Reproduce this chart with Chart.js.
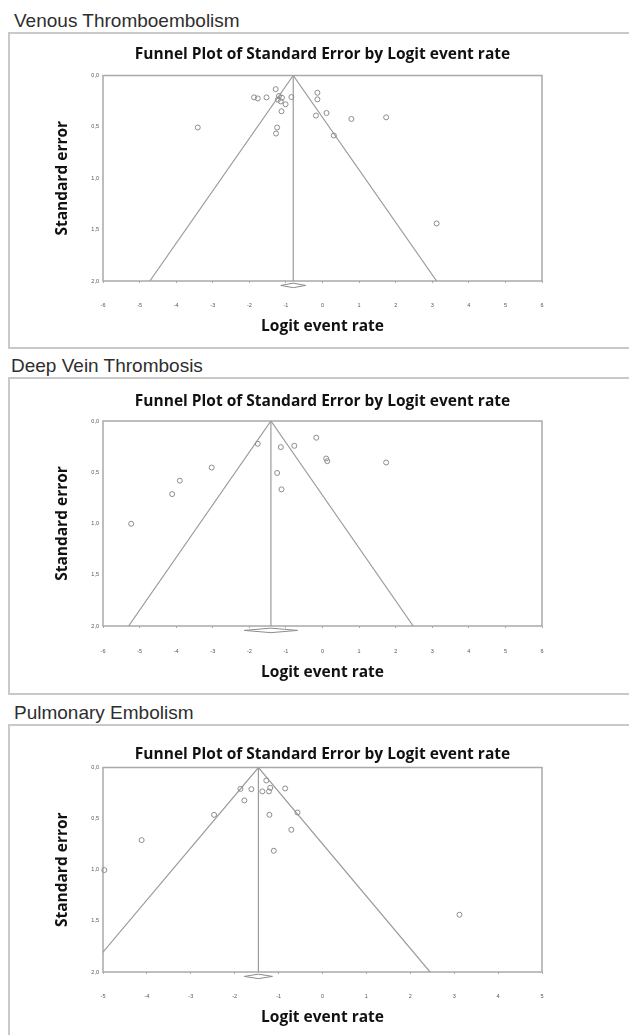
<!DOCTYPE html>
<html>
<head>
<meta charset="utf-8">
<title>Funnel plots</title>
<script src="https://cdn.jsdelivr.net/npm/chart.js@4.4.1/dist/chart.umd.min.js"></script>
<style>
  body { margin: 0; width: 629px; height: 1035px; overflow: hidden; background: #fff; position: relative; }
  .section { position: absolute; font-family: "Liberation Sans", Arial, sans-serif; font-size: 19px; line-height: 19px; color: #2e2e2e; white-space: nowrap; }
  .box { position: absolute; left: 8px; width: 660px; border: 2px solid #c9c9c9; border-right: none; }
  canvas { position: absolute; left: 0; }
</style>
</head>
<body>

<div class="section" style="left:14px;top:11px">Venous Thromboembolism</div>
<div class="box" style="top:32px;height:313px"></div>
<canvas id="vte" width="629" height="313" style="top:34px"></canvas>

<div class="section" style="left:11px;top:356px">Deep Vein Thrombosis</div>
<div class="box" style="top:377px;height:314px"></div>
<canvas id="dvt" width="629" height="314" style="top:379px"></canvas>

<div class="section" style="left:14px;top:703px">Pulmonary Embolism</div>
<div class="box" style="top:724px;height:340px"></div>
<canvas id="pe" width="629" height="309" style="top:726px"></canvas>

<script>
const chartTitle = 'Funnel Plot of Standard Error by Logit event rate';
const logitTicksWide = [-6, -5, -4, -3, -2, -1, 0, 1, 2, 3, 4, 5, 6];
const logitTicksNarrow = [-5, -4, -3, -2, -1, 0, 1, 2, 3, 4, 5];
const seTicks = [0, 0.5, 1, 1.5, 2];
const seTickLabels = ['0,0', '0,5', '1,0', '1,5', '2,0'];

// Venous thromboembolism
const vteLogit = [-1.28, -1.87, -1.77, -1.53, -1.19, -1.11, -1.22, -1.14, -1.01, -1.12, -0.85,
                  -0.14, -0.14, 0.11, -0.18, 0.79, 0.31, -3.41, -1.24, -1.27, 1.74, 3.12];
const vteSE = [0.133, 0.213, 0.223, 0.213, 0.200, 0.216, 0.235, 0.252, 0.280, 0.348, 0.210,
               0.168, 0.232, 0.365, 0.390, 0.423, 0.584, 0.506, 0.506, 0.565, 0.407, 1.440];
const vteFunnel = [-4.72, -0.80, 3.12];   // lower limit at SE 2, summary, upper limit at SE 2
const vteDiamond = [-1.14, -0.80, -0.46];

// Deep vein thrombosis
const dvtLogit = [-1.77, -1.14, -0.77, -0.17, 0.10, 0.13, -1.24, -1.12, -3.03, -3.90, -4.11, -5.23, 1.74];
const dvtSE = [0.222, 0.255, 0.242, 0.163, 0.366, 0.392, 0.507, 0.667, 0.454, 0.582, 0.713, 1.003, 0.405];
const dvtFunnel = [-5.30, -1.41, 2.48];
const dvtDiamond = [-2.14, -1.41, -0.68];

// Pulmonary embolism
const peLogit = [-1.28, -1.87, -1.62, -1.37, -1.22, -1.19, -0.85, -1.78, -2.47, -1.21, -0.57,
                 -0.71, -1.11, -4.12, -4.97, 3.12];
const peSE = [0.127, 0.209, 0.212, 0.234, 0.234, 0.199, 0.205, 0.322, 0.463, 0.463, 0.440,
              0.609, 0.814, 0.710, 1.003, 1.440];
const peFunnel = [-5.38, -1.46, 2.45];
const peDiamond = [-1.78, -1.46, -1.14];

const lineGrey = '#9c9c9c';
const titleSize = 15.5;
const axisTitleSize = 15.5;
const boldFont = (size) => ({ family: '"Open Sans", "DejaVu Sans", sans-serif', size: size, weight: 'bold' });

// frame round the plot area
const plotFrame = {
    id: 'plotFrame',
    beforeDatasetsDraw(chart) {
        const { ctx, chartArea: a } = chart;
        ctx.save();
        ctx.strokeStyle = '#a9a9a9';
        ctx.lineWidth = 1.5;
        ctx.strokeRect(a.left, a.top, a.right - a.left, a.bottom - a.top);
        ctx.restore();
    }
};

const makeFunnel = (id, logit, se, funnel, diamond, xTicks, place) => {
    const canvas = document.getElementById(id);
    const top = parseFloat(canvas.style.top);
    const h = canvas.height;
    const seMax = seTicks[seTicks.length - 1];
    const titleLh = titleSize * 1.2;
    const titleTop = place.titleY - top - titleLh / 2;
    const titleBottom = place.areaTop - top - titleTop - titleLh;
    const areaBottom = place.areaBottom - top;
    const xHeight = h - areaBottom;
    const axisTitlePad = xHeight - (place.axisTitleY - place.areaBottom) - axisTitleSize * 1.2 / 2;
    const tickPad = place.tickY - place.areaBottom - 2 - 5.5 * 1.2 / 2;

    const points = logit.map((x, i) => ({ x: x, y: se[i] }));
    const dy = 2.043, dh = 0.022;

    const config = {
        type: 'scatter',
        data: {
            datasets: [
                {
                    label: 'Studies',
                    data: points,
                    pointStyle: 'circle',
                    pointRadius: 2.5,
                    pointBorderWidth: 1,
                    pointBorderColor: '#8c8c8c',
                    pointBackgroundColor: 'rgba(0,0,0,0)',
                    clip: false
                },
                {
                    label: 'Funnel',
                    data: [{ x: funnel[0], y: seMax }, { x: funnel[1], y: 0 }, { x: funnel[2], y: seMax }],
                    showLine: true,
                    borderColor: lineGrey,
                    borderWidth: 1.2,
                    pointRadius: 0
                },
                {
                    label: 'Summary',
                    data: [{ x: funnel[1], y: 0 }, { x: funnel[1], y: seMax }],
                    showLine: true,
                    borderColor: lineGrey,
                    borderWidth: 1.2,
                    pointRadius: 0
                },
                {
                    label: 'Diamond',
                    data: [
                        { x: diamond[0], y: dy }, { x: diamond[1], y: dy - dh },
                        { x: diamond[2], y: dy }, { x: diamond[1], y: dy + dh },
                        { x: diamond[0], y: dy }
                    ],
                    showLine: true,
                    borderColor: '#8c8c8c',
                    borderWidth: 1,
                    pointRadius: 0,
                    clip: false
                }
            ]
        },
        options: {
            responsive: false,
            animation: false,
            layout: { padding: { left: 0, right: 629 - place.areaRight, top: 0, bottom: 0 } },
            plugins: {
                legend: { display: false },
                tooltip: { enabled: false },
                title: {
                    display: true,
                    text: chartTitle,
                    fullSize: false,
                    color: '#111',
                    font: boldFont(titleSize),
                    padding: { top: titleTop, bottom: titleBottom }
                }
            },
            scales: {
                x: {
                    type: 'linear',
                    min: xTicks[0],
                    max: xTicks[xTicks.length - 1],
                    afterBuildTicks: (s) => { s.ticks = xTicks.map(v => ({ value: v })); },
                    afterFit: (s) => { s.height = xHeight; },
                    ticks: { font: { size: 5.5 }, color: '#555', padding: tickPad, maxRotation: 0, autoSkip: false },
                    grid: { drawOnChartArea: false, drawTicks: true, tickLength: 2, color: '#aaa' },
                    border: { display: false },
                    title: {
                        display: true,
                        text: 'Logit event rate',
                        color: '#111',
                        font: boldFont(axisTitleSize),
                        padding: { top: 0, bottom: axisTitlePad }
                    }
                },
                y: {
                    type: 'linear',
                    reverse: true,
                    min: 0,
                    max: seMax,
                    afterBuildTicks: (s) => { s.ticks = seTicks.map(v => ({ value: v })); },
                    afterFit: (s) => { s.width = place.areaLeft; },
                    ticks: {
                        font: { size: 5.5 },
                        color: '#555',
                        padding: 4,
                        callback: (v, i) => seTickLabels[i]
                    },
                    grid: { display: false, drawTicks: false },
                    border: { display: false },
                    title: {
                        display: true,
                        text: 'Standard error',
                        color: '#111',
                        font: boldFont(axisTitleSize),
                        padding: { top: 63 - axisTitleSize * 1.2 / 2, bottom: 0 }
                    }
                }
            }
        },
        plugins: [plotFrame]
    };

    return new Chart(canvas.getContext('2d'), config);
};

makeFunnel('vte', vteLogit, vteSE, vteFunnel, vteDiamond, logitTicksWide,
    { titleY: 54.5, areaTop: 75.5, areaBottom: 281, areaLeft: 103, areaRight: 542, tickY: 305, axisTitleY: 326.7 });

makeFunnel('dvt', dvtLogit, dvtSE, dvtFunnel, dvtDiamond, logitTicksWide,
    { titleY: 402, areaTop: 421, areaBottom: 626, areaLeft: 103, areaRight: 542, tickY: 651, axisTitleY: 673 });

makeFunnel('pe', peLogit, peSE, peFunnel, peDiamond, logitTicksNarrow,
    { titleY: 755, areaTop: 767.5, areaBottom: 972, areaLeft: 103, areaRight: 542, tickY: 996.7, axisTitleY: 1018 });
</script>
</body>
</html>
